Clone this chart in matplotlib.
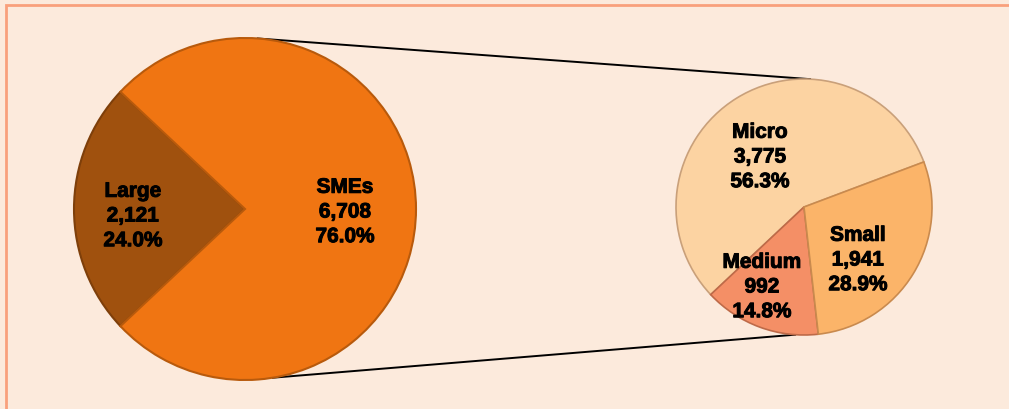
import numpy as np
import matplotlib.pyplot as plt
import matplotlib.patheffects as pe
from matplotlib.patches import Rectangle

plt.rcParams['font.family'] = ['Liberation Sans', 'DejaVu Sans']

# firms by size class
all_labels = ['Large', 'SMEs']
all_counts = [2121, 6708]
sme_labels = ['Micro', 'Medium', 'Small']
sme_counts = [3775, 992, 1941]

all_colors = ['#A0510E', '#F07512']
all_edges = ['#7E3F0A', '#B85A0C']
sme_colors = ['#FCD3A2', '#F48F66', '#FBB469']
sme_edges = ['#C9A07A', '#BE6A48', '#C98A4E']

W, H = 1009, 410
fig = plt.figure(figsize=(W / 100, H / 100), dpi=100)
fig.patch.set_facecolor('#FCEADC')
ax = fig.add_axes([0, 0, 1, 1])
ax.set_facecolor('#FCEADC')

left_c, left_r = (245, 200), 171
right_c, right_r = (804, 202), 128

# Large wedge centred on the left side
large_frac = all_counts[0] / sum(all_counts)
w1, _ = ax.pie(all_counts, colors=all_colors, center=left_c, radius=left_r,
               startangle=180 - 180 * large_frac, counterclock=True,
               wedgeprops=dict(linewidth=1.5))
for w, ec in zip(w1, all_edges):
    w.set_edgecolor(ec)

w2, _ = ax.pie(sme_counts, colors=sme_colors, center=right_c, radius=right_r,
               startangle=20.6, counterclock=True,
               wedgeprops=dict(linewidth=1.2))
for w, ec in zip(w2, sme_edges):
    w.set_edgecolor(ec)


def on_circle(c, r, deg):
    a = np.radians(deg)
    return c[0] + r * np.cos(a), c[1] + r * np.sin(a)


# connector lines between the two pies
for a_left, a_right in [(85.7, 87.3), (-80.6, -94.0)]:
    x0, y0 = on_circle(left_c, left_r, a_left)
    x1, y1 = on_circle(right_c, right_r, a_right)
    ax.plot([x0, x1], [y0, y1], color='black', lw=1.4, zorder=0.5)


def fmt(name, n, tot):
    return f'{name}\n{n:,}\n{100 * n / tot:.1f}%'


txt = dict(ha='center', va='center', fontsize=15, fontweight='bold',
           linespacing=1.38, color='black',
           path_effects=[pe.withStroke(linewidth=0.7, foreground='black')])
tot = sum(all_counts)
ax.text(133, 193, fmt(all_labels[0], all_counts[0], tot), **txt)
ax.text(345, 197, fmt(all_labels[1], all_counts[1], tot), **txt)
stot = sum(sme_counts)
ax.text(760, 252, fmt(sme_labels[0], sme_counts[0], stot), **txt)
ax.text(762, 122, fmt(sme_labels[1], sme_counts[1], stot), **txt)
ax.text(858, 149, fmt(sme_labels[2], sme_counts[2], stot), **txt)

# frame
ax.add_patch(Rectangle((6, -10), W + 10, H - 6 + 10, fill=False,
                       edgecolor='#F9A07C', lw=2, zorder=0.2))

ax.set_xlim(0, W)
ax.set_ylim(0, H)
ax.set_aspect('auto')
ax.axis('off')

fig.savefig('out.png', dpi=100, facecolor=fig.get_facecolor())
